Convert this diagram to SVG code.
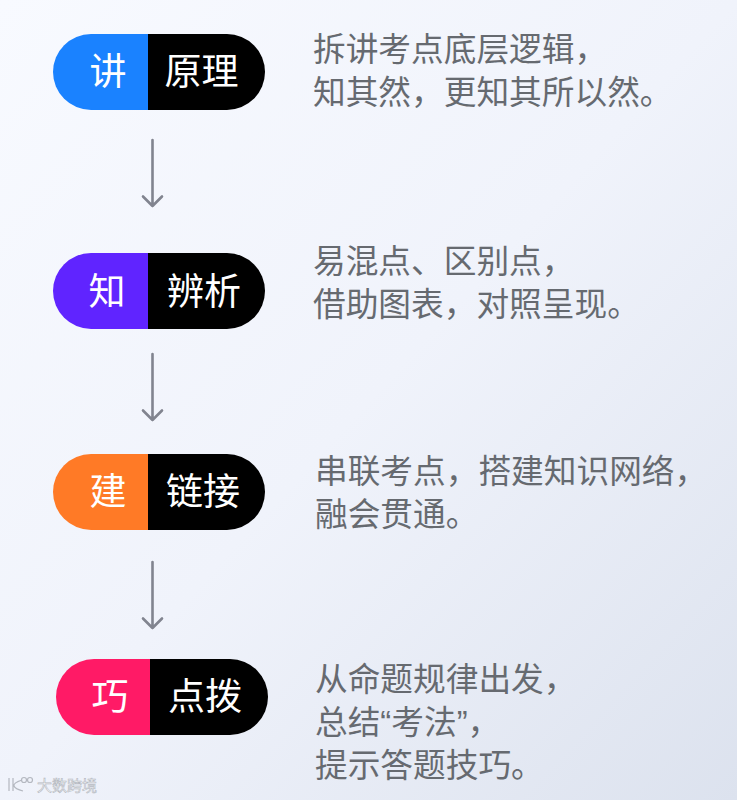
<svg xmlns="http://www.w3.org/2000/svg" width="737" height="800" viewBox="0 0 737 800">
<style>
text{font-family:"Liberation Sans","Noto Sans CJK SC",sans-serif}
.t{font-size:32.7px;fill:#666a70}
.w{font-size:37px;fill:#fff;text-anchor:middle}
.r{font-size:37px;fill:#fff;text-anchor:middle}
.c{fill:none;stroke:#81848f;stroke-width:2.6;stroke-linecap:round;stroke-linejoin:round}
.wm{font-size:15px;fill:#fff;stroke:#b4b8c0;stroke-width:.6}
.lg{fill:none;stroke:#b4b8c0;stroke-width:1.2}
</style>
<defs>
<linearGradient id="bg" x1="0" y1="0" x2="1" y2="1"><stop offset="0" stop-color="#f8faff"/><stop offset=".5" stop-color="#f0f3fb"/><stop offset="1" stop-color="#dce2ee"/></linearGradient>
</defs>
<rect width="737" height="800" fill="url(#bg)"/>
<g id="connectors">
<path class="c" d="M152.500 140V206M143 196.500L152.500 206L162 196.500"/>
<path class="c" d="M152.500 354V420M143 410.500L152.500 420L162 410.500"/>
<path class="c" d="M152.500 562V628M143 618.500L152.500 628L162 618.500"/>
</g>
<g id="node1">
<path d="M148 34H91a38 38 0 0 0 0 76H148Z" fill="#1a82ff"/><path d="M148 34H227a38 38 0 0 1 0 76H148Z" fill="#000"/>
<text class="w" x="108" y="85">讲</text><text class="r" x="201.500" y="85">原理</text>
<text class="t"><tspan x="313" y="61">拆讲考点底层逻辑，</tspan><tspan x="313" y="104">知其然，更知其所以然。</tspan></text>
</g>
<g id="node2">
<path d="M148 253H91a38 38 0 0 0 0 76H148Z" fill="#6024ff"/><path d="M148 253H227a38 38 0 0 1 0 76H148Z" fill="#000"/>
<text class="w" x="107" y="305">知</text><text class="r" x="204" y="305">辨析</text>
<text class="t"><tspan x="313" y="273">易混点、区别点，</tspan><tspan x="313" y="316">借助图表，对照呈现。</tspan></text>
</g>
<g id="node3">
<path d="M148 454H91a38 38 0 0 0 0 76H148Z" fill="#ff7a26"/><path d="M148 454H227a38 38 0 0 1 0 76H148Z" fill="#000"/>
<text class="w" x="108" y="505">建</text><text class="r" x="203" y="505">链接</text>
<text class="t"><tspan x="315" y="483">串联考点，搭建知识网络，</tspan><tspan x="315" y="526">融会贯通。</tspan></text>
</g>
<g id="node4">
<path d="M150 659H94a38 38 0 0 0 0 76H150Z" fill="#ff1a66"/><path d="M150 659H230a38 38 0 0 1 0 76H150Z" fill="#000"/>
<text class="w" x="110" y="710">巧</text><text class="r" x="205" y="710">点拨</text>
<text class="t"><tspan x="315" y="691">从命题规律出发，</tspan><tspan x="315" y="734">总结“考法”，</tspan><tspan x="315" y="777">提示答题技巧。</tspan></text>
</g>
<g id="watermark">
<text class="wm" x="37" y="791" textLength="60">大数跨境</text>
<path class="lg" d="M9 778V791M13 778V791M22 780q-9 3-8 6t9 5"/>
<circle class="lg" cx="24" cy="780" r="2.500"/><circle class="lg" cx="30" cy="780" r="2.500"/>
</g>
</svg>
